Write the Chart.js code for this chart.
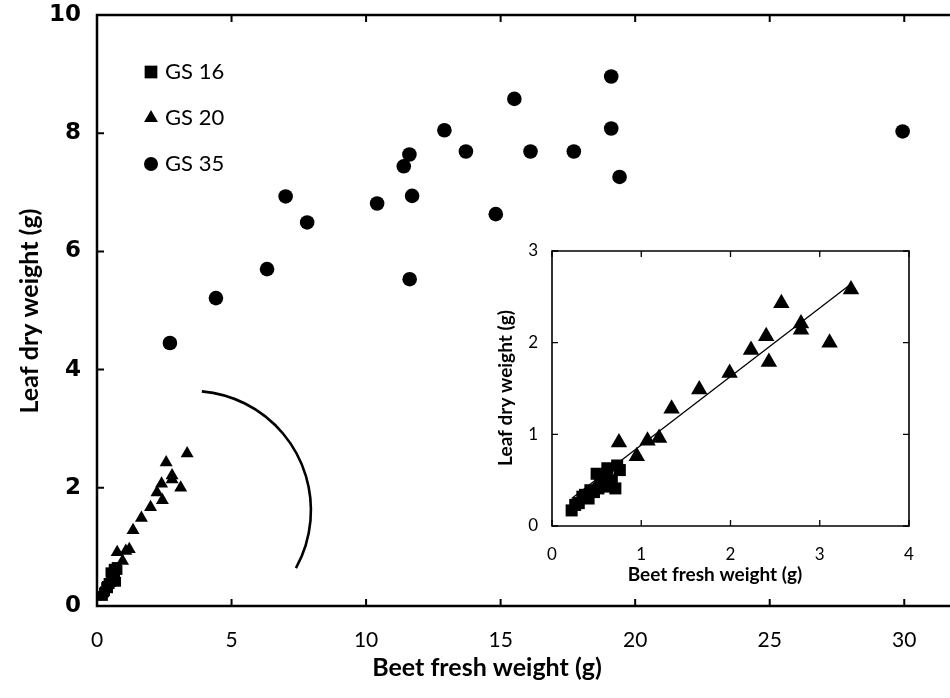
<!DOCTYPE html>
<html lang="en">
<head>
<meta charset="UTF-8">
<title>Leaf dry weight vs beet fresh weight</title>
<script src="https://cdn.jsdelivr.net/npm/chart.js"></script>
<style>
    body { margin: 0; background: #fff; }
    #wrap { position: relative; width: 950px; height: 698px; overflow: hidden; }
    #mainChart { position: absolute; left: 0; top: 0; }
    #insetChart { position: absolute; left: 490px; top: 240px; }
</style>
</head>
<body>
<div id="wrap">
    <canvas id="mainChart" width="950" height="698"></canvas>
    <canvas id="insetChart" width="430" height="360"></canvas>
</div>
<script>
// GS 16 (squares)
const gs16X = [0.22, 0.26, 0.30, 0.34, 0.37, 0.41, 0.43, 0.47, 0.50, 0.52, 0.54, 0.60, 0.62, 0.65, 0.67, 0.71, 0.73, 0.76];
const gs16Y = [0.17, 0.23, 0.25, 0.32, 0.34, 0.30, 0.39, 0.37, 0.57, 0.41, 0.50, 0.52, 0.63, 0.43, 0.50, 0.41, 0.66, 0.61];
// GS 20 (triangles)
const gs20X = [0.75, 0.95, 1.07, 1.20, 1.34, 1.65, 1.99, 2.23, 2.40, 2.43, 2.57, 2.79, 2.79, 3.11, 3.35];
const gs20Y = [0.91, 0.76, 0.93, 0.96, 1.28, 1.49, 1.67, 1.92, 2.07, 1.79, 2.43, 2.21, 2.14, 2.00, 2.58];
// GS 35 (circles)
const gs35X = [2.71, 4.42, 6.32, 7.01, 7.81, 10.41, 11.40, 11.61, 11.62, 11.71, 12.91, 13.71, 14.82, 15.51, 16.11, 17.72, 19.11, 19.11, 19.42, 29.94];
const gs35Y = [4.45, 5.21, 5.70, 6.93, 6.49, 6.81, 7.44, 7.64, 5.53, 6.94, 8.05, 7.69, 6.63, 8.58, 7.69, 7.69, 8.96, 8.08, 7.26, 8.03];
// fitted line in the inset (end points)
const trendX = [0.22, 3.35];
const trendY = [0.30, 2.64];

const labels = ['GS 16', 'GS 20', 'GS 35'];
const xTitle = 'Beet fresh weight (g)';
const yTitle = 'Leaf dry weight (g)';

const toPoints = (xs, ys) => xs.map((x, i) => ({ x: x, y: ys[i] }));

// fixed axis box size, no extra room for overhanging labels
const fixSize = (w, h) => s => {
    if (w) s.width = w;
    if (h) s.height = h;
    s.paddingTop = s.paddingBottom = s.paddingLeft = s.paddingRight = 0;
};

// axis lines + inward tick marks
const framePlugin = {
    id: 'frame',
    afterDatasetsDraw(chart, args, o) {
        const { ctx, chartArea: a, scales } = chart;
        ctx.save();
        ctx.strokeStyle = '#000';
        ctx.lineWidth = o.lineWidth;
        ctx.lineCap = 'square';
        ctx.beginPath();
        ctx.moveTo(a.left, a.top);
        ctx.lineTo(a.left, a.bottom);
        ctx.lineTo(a.right, a.bottom);
        if (o.right) {
            ctx.lineTo(a.right, a.top);
        }
        ctx.moveTo(a.left, a.top);
        ctx.lineTo(a.right, a.top);
        ctx.stroke();

        ctx.lineWidth = o.tickWidth;
        ctx.lineCap = 'butt';
        ctx.beginPath();
        scales.x.ticks.forEach(t => {
            const px = scales.x.getPixelForValue(t.value);
            ctx.moveTo(px, a.bottom);
            ctx.lineTo(px, a.bottom - o.tickLen);
            ctx.moveTo(px, a.top);
            ctx.lineTo(px, a.top + o.tickLen);
        });
        scales.y.ticks.forEach(t => {
            const py = scales.y.getPixelForValue(t.value);
            ctx.moveTo(a.left, py);
            ctx.lineTo(a.left + o.tickLen, py);
            if (o.right) {
                ctx.moveTo(a.right, py);
                ctx.lineTo(a.right - o.tickLen, py);
            }
        });
        ctx.stroke();
        ctx.restore();
    }
};

// axis titles placed where the original has them
const titlesPlugin = {
    id: 'titles',
    afterDraw(chart, args, o) {
        const ctx = chart.ctx;
        ctx.save();
        ctx.fillStyle = '#000';
        ctx.font = o.font;
        ctx.textAlign = 'center';
        ctx.textBaseline = 'middle';
        ctx.fillText(xTitle, o.xPos[0], o.xPos[1]);
        ctx.translate(o.yPos[0], o.yPos[1]);
        ctx.rotate(-Math.PI / 2);
        ctx.fillText(yTitle, 0, 0);
        ctx.restore();
    }
};

// legend drawn inside the plot, top left
const keyPlugin = {
    id: 'key',
    afterDraw(chart, args, o) {
        if (!o.show) return;
        const ctx = chart.ctx;
        ctx.save();
        ctx.font = o.font;
        ctx.textBaseline = 'middle';
        ctx.fillStyle = '#000';
        chart.data.datasets.forEach((ds, i) => {
            const y = o.top + i * o.step;
            Chart.helpers.drawPoint(ctx, {
                pointStyle: ds.pointStyle, radius: o.radius[i], rotation: 0, borderWidth: 0
            }, o.markX, y);
            ctx.fillText(ds.label, o.textX, y);
        });
        ctx.restore();
    }
};

// the hand-drawn arc in the main plot, in data units
const arcPlugin = {
    id: 'arc',
    afterDatasetsDraw(chart, args, o) {
        if (!o.show) return;
        const { ctx, scales: { x, y } } = chart;
        const cx = x.getPixelForValue(o.center[0]);
        const cy = y.getPixelForValue(o.center[1]);
        const rx = x.getPixelForValue(o.center[0] + o.rx) - cx;
        const ry = cy - y.getPixelForValue(o.center[1] + o.ry);
        ctx.save();
        ctx.strokeStyle = '#000';
        ctx.lineWidth = 2.6;
        ctx.beginPath();
        ctx.ellipse(cx, cy, rx, ry, 0, o.from * Math.PI / 180, o.to * Math.PI / 180);
        ctx.stroke();
        ctx.restore();
    }
};

Chart.register(framePlugin, titlesPlugin, keyPlugin, arcPlugin);

const black = '#000';

new Chart(document.getElementById('mainChart'), {
    type: 'scatter',
    data: {
        datasets: [
            { label: labels[0], data: toPoints(gs16X, gs16Y), pointStyle: 'rect', pointRadius: 7, backgroundColor: black, borderColor: black, borderWidth: 0, clip: false },
            { label: labels[1], data: toPoints(gs20X, gs20Y), pointStyle: 'triangle', pointRadius: 7.5, backgroundColor: black, borderColor: black, borderWidth: 0, clip: false },
            { label: labels[2], data: toPoints(gs35X, gs35Y), pointStyle: 'circle', pointRadius: 7.3, backgroundColor: black, borderColor: black, borderWidth: 0, clip: false }
        ]
    },
    options: {
        responsive: false,
        animation: false,
        events: [],
        layout: { autoPadding: false, padding: { top: 15, right: 0, left: 0, bottom: 0 } },
        scales: {
            x: {
                type: 'linear',
                bounds: 'data',
                min: 0,
                max: 31.7,
                afterFit: fixSize(0, 92),
                grid: { display: false, drawTicks: false },
                border: { display: false },
                ticks: {
                    stepSize: 5,
                    includeBounds: false,
                    padding: 22,
                    color: black,
                    font: { family: 'Lato, "Open Sans", sans-serif', size: 21 }
                }
            },
            y: {
                min: 0,
                max: 10,
                afterFit: fixSize(97, 0),
                grid: { display: false, drawTicks: false },
                border: { display: false },
                ticks: {
                    stepSize: 2,
                    padding: 16,
                    color: black,
                    font: { family: '"DejaVu Sans", sans-serif', size: 23, weight: 'bold' }
                }
            }
        },
        plugins: {
            legend: { display: false },
            tooltip: { enabled: false },
            frame: { lineWidth: 2.5, tickWidth: 2, tickLen: 7, right: false },
            titles: { font: 'bold 25px Lato, "Open Sans", sans-serif', xPos: [487, 668], yPos: [30, 311] },
            key: { show: true, font: '22px Lato, "Open Sans", sans-serif', top: 72, step: 46, markX: 151, textX: 165, radius: [9, 8, 7] },
            arc: { show: true, center: [3.51, 1.62], rx: 4.44, ry: 2.02, from: -85, to: 29 }
        }
    }
});

new Chart(document.getElementById('insetChart'), {
    type: 'scatter',
    data: {
        datasets: [
            { label: labels[0], data: toPoints(gs16X, gs16Y), pointStyle: 'rect', pointRadius: 8.5, backgroundColor: black, borderWidth: 0, clip: false },
            { label: labels[1], data: toPoints(gs20X, gs20Y), pointStyle: 'triangle', pointRadius: 9.5, backgroundColor: black, borderWidth: 0, clip: false },
            { type: 'line', label: 'fit', data: toPoints(trendX, trendY), borderColor: black, borderWidth: 1.3, pointRadius: 0, fill: false }
        ]
    },
    options: {
        responsive: false,
        animation: false,
        events: [],
        layout: { autoPadding: false, padding: { top: 11, right: 11, left: 0, bottom: 0 } },
        scales: {
            x: {
                type: 'linear',
                bounds: 'data',
                min: 0,
                max: 4,
                afterFit: fixSize(0, 74),
                grid: { display: false, drawTicks: false },
                border: { display: false },
                ticks: {
                    stepSize: 1,
                    padding: 18,
                    color: black,
                    font: { family: 'Lato, "Open Sans", sans-serif', size: 17 }
                }
            },
            y: {
                min: 0,
                max: 3,
                afterFit: fixSize(62, 0),
                grid: { display: false, drawTicks: false },
                border: { display: false },
                ticks: {
                    stepSize: 1,
                    padding: 14,
                    color: black,
                    font: { family: 'Lato, "Open Sans", sans-serif', size: 17 }
                }
            }
        },
        plugins: {
            legend: { display: false },
            tooltip: { enabled: false },
            frame: { lineWidth: 1.6, tickWidth: 1.3, tickLen: 6, right: true },
            titles: { font: 'bold 19px Lato, "Open Sans", sans-serif', xPos: [225, 335], yPos: [16, 148] },
            key: { show: false },
            arc: { show: false }
        }
    }
});
</script>
</body>
</html>
